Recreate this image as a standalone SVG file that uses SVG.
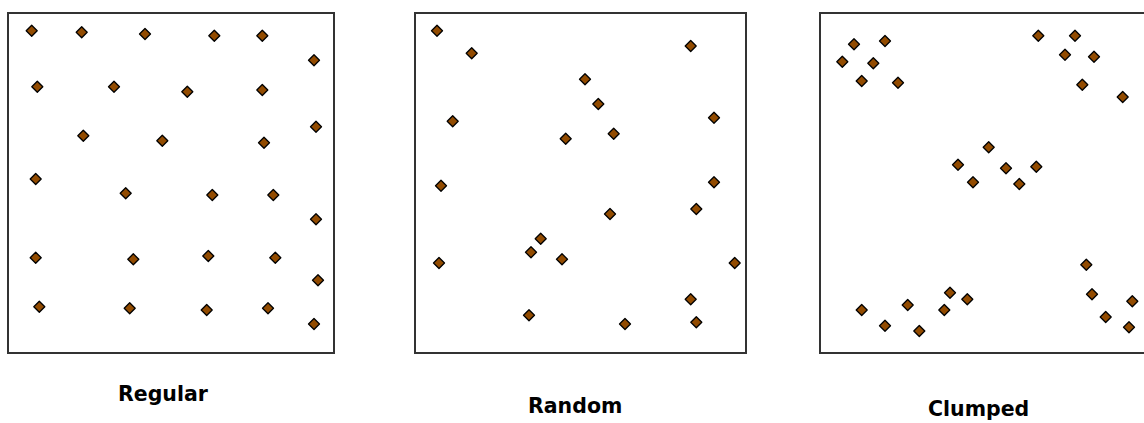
<svg xmlns="http://www.w3.org/2000/svg" xmlns:xlink="http://www.w3.org/1999/xlink" width="1144" height="423" viewBox="0 0 1144 423">
<style>
.box{fill:#ffffff;stroke:#333333;stroke-width:2}
.lbl{font-family:"DejaVu Sans","Liberation Sans",sans-serif;font-weight:bold;font-size:20.5px;fill:#000000}
</style>
<defs>
<path id="d" d="M0,-5.5 L5.5,0 L0,5.5 L-5.5,0 Z" fill="#924b00" stroke="#000000" stroke-width="1.3" stroke-linejoin="round"/>
</defs>
<rect width="1144" height="423" fill="#ffffff"/>
<g id="regular">
<rect class="box" x="8" y="13" width="326" height="340"/>
<use href="#d" x="31.7" y="30.7"/><use href="#d" x="81.7" y="32.3"/><use href="#d" x="145" y="34"/><use href="#d" x="214.3" y="35.7"/><use href="#d" x="262.3" y="35.7"/><use href="#d" x="314" y="60.3"/>
<use href="#d" x="37.3" y="86.7"/><use href="#d" x="114" y="86.7"/><use href="#d" x="187.3" y="91.7"/><use href="#d" x="262.3" y="90"/><use href="#d" x="316" y="126.7"/>
<use href="#d" x="83.3" y="135.7"/><use href="#d" x="162.3" y="140.7"/><use href="#d" x="264" y="142.7"/>
<use href="#d" x="35.7" y="179"/><use href="#d" x="125.7" y="193.3"/><use href="#d" x="212.3" y="195"/><use href="#d" x="273.3" y="195"/>
<use href="#d" x="316" y="219.3"/><use href="#d" x="35.7" y="257.7"/><use href="#d" x="133.3" y="259.3"/><use href="#d" x="208.3" y="256"/><use href="#d" x="275.3" y="257.7"/><use href="#d" x="318" y="280.3"/>
<use href="#d" x="39.3" y="306.7"/><use href="#d" x="129.7" y="308.3"/><use href="#d" x="206.7" y="310"/><use href="#d" x="268" y="308.3"/><use href="#d" x="314" y="324"/>
<text class="lbl" x="118" y="401">Regular</text>
</g>
<g id="random">
<rect class="box" x="415" y="13" width="331" height="340"/>
<use href="#d" x="437" y="30.7"/><use href="#d" x="471.7" y="53.3"/><use href="#d" x="690.7" y="46"/><use href="#d" x="585" y="79.3"/><use href="#d" x="598.3" y="104"/>
<use href="#d" x="452.7" y="121.3"/><use href="#d" x="714" y="117.7"/><use href="#d" x="565.7" y="138.7"/><use href="#d" x="613.7" y="133.7"/>
<use href="#d" x="441" y="185.7"/><use href="#d" x="714" y="182.3"/><use href="#d" x="610" y="214"/><use href="#d" x="696.3" y="209"/>
<use href="#d" x="540.7" y="238.7"/><use href="#d" x="531" y="252.3"/><use href="#d" x="562" y="259.3"/><use href="#d" x="439" y="263"/><use href="#d" x="734.7" y="263"/>
<use href="#d" x="690.7" y="299.3"/><use href="#d" x="529" y="315.3"/><use href="#d" x="625" y="324"/><use href="#d" x="696.3" y="322.3"/>
<text class="lbl" x="528" y="413">Random</text>
</g>
<g id="clumped">
<rect class="box" x="820" y="13" width="340" height="340"/>
<use href="#d" x="854" y="44.3"/><use href="#d" x="885" y="41"/><use href="#d" x="842.3" y="61.7"/><use href="#d" x="873.3" y="63.3"/><use href="#d" x="861.7" y="81"/><use href="#d" x="898" y="82.7"/>
<use href="#d" x="1038.3" y="35.7"/><use href="#d" x="1075" y="35.7"/><use href="#d" x="1065" y="54.7"/><use href="#d" x="1094" y="56.7"/><use href="#d" x="1082.3" y="84.7"/><use href="#d" x="1122.7" y="97"/>
<use href="#d" x="988.7" y="147.3"/><use href="#d" x="958" y="164.7"/><use href="#d" x="1006" y="168.3"/><use href="#d" x="1036.3" y="166.7"/><use href="#d" x="973" y="182.3"/><use href="#d" x="1019.3" y="184"/>
<use href="#d" x="1086.3" y="264.7"/><use href="#d" x="1092" y="294.3"/><use href="#d" x="1132.3" y="301.3"/><use href="#d" x="1105.7" y="317"/><use href="#d" x="1129" y="327.3"/>
<use href="#d" x="861.7" y="310"/><use href="#d" x="885" y="325.7"/><use href="#d" x="907.7" y="305"/><use href="#d" x="919.3" y="331"/><use href="#d" x="950" y="292.7"/><use href="#d" x="967.3" y="299.3"/><use href="#d" x="944.3" y="310"/>
<text class="lbl" x="928" y="416">Clumped</text>
</g>
</svg>
